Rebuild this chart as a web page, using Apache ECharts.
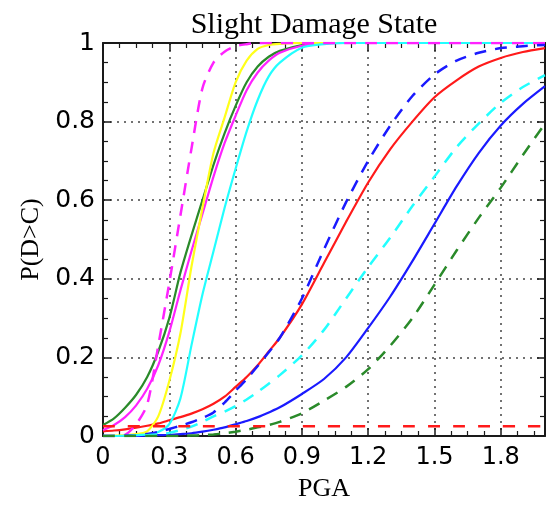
<!DOCTYPE html>
<html>
<head>
<meta charset="utf-8">
<script src="https://cdn.jsdelivr.net/npm/echarts@6/dist/echarts.min.js"></script>
<style>
html,body{margin:0;padding:0;background:#fff;}
#chart{width:554px;height:507px;}
</style>
</head>
<body>
<div id="chart"></div>
<script>
// PGA sample points
var pga = [0,0.05,0.1,0.15,0.2,0.25,0.3,0.35,0.4,0.45,0.5,0.55,0.6,0.65,0.7,0.75,0.8,0.9,1.0,1.1,1.2,1.3,1.4,1.5,1.6,1.7,1.8,1.9,2.0];
var xTicks = [0,0.3,0.6,0.9,1.2,1.5,1.8];
var yTicks = [0,0.2,0.4,0.6,0.8,1];

var greenSolid   = [0.028,0.045,0.072,0.105,0.15,0.215,0.3,0.415,0.51,0.6,0.69,0.77,0.84,0.9,0.94,0.965,0.98,0.995,1,1,1,1,1,1,1,1,1,1,1];
var magentaSolid = [0.015,0.028,0.048,0.078,0.12,0.18,0.265,0.37,0.47,0.565,0.66,0.745,0.815,0.88,0.925,0.955,0.975,0.993,0.999,1,1,1,1,1,1,1,1,1,1];
var yellowSolid  = [0,0.001,0.002,0.005,0.012,0.05,0.14,0.26,0.43,0.58,0.72,0.81,0.9,0.955,0.985,0.995,0.998,1,1,1,1,1,1,1,1,1,1,1,1];
var cyanSolid    = [0,0,0.001,0.002,0.004,0.01,0.03,0.095,0.23,0.36,0.47,0.58,0.68,0.775,0.855,0.915,0.95,0.988,0.997,1,1,1,1,1,1,1,1,1,1];
var redSolid     = [0.012,0.014,0.017,0.021,0.026,0.032,0.04,0.048,0.057,0.068,0.082,0.1,0.125,0.15,0.18,0.215,0.25,0.335,0.44,0.545,0.645,0.73,0.8,0.862,0.905,0.94,0.962,0.977,0.987];
var blueSolid    = [0,0,0,0,0.001,0.002,0.003,0.005,0.007,0.011,0.016,0.022,0.03,0.038,0.048,0.06,0.073,0.107,0.145,0.2,0.275,0.355,0.445,0.54,0.635,0.72,0.79,0.845,0.89];
var magentaDash  = [0,0,0.003,0.03,0.08,0.23,0.39,0.56,0.73,0.885,0.95,0.978,0.992,0.997,1,1,1,1,1,1,1,1,1,1,1,1,1,1,1];
var blueDash     = [0,0,0.001,0.002,0.005,0.01,0.018,0.026,0.035,0.046,0.06,0.085,0.115,0.145,0.178,0.213,0.25,0.35,0.475,0.595,0.7,0.79,0.865,0.92,0.955,0.975,0.987,0.992,0.995];
var cyanDash     = [0,0,0,0.001,0.002,0.004,0.008,0.015,0.024,0.036,0.05,0.062,0.076,0.093,0.112,0.133,0.155,0.205,0.27,0.35,0.43,0.505,0.585,0.66,0.735,0.795,0.848,0.888,0.918];
var greenDash    = [0,0,0,0,0,0,0,0,0.001,0.002,0.004,0.007,0.011,0.016,0.022,0.028,0.036,0.058,0.09,0.125,0.17,0.23,0.3,0.385,0.472,0.555,0.632,0.715,0.795];
var redDash      = [0.025,0.025,0.025,0.025,0.025,0.025,0.025,0.025,0.025,0.025,0.025,0.025,0.025,0.025,0.025,0.025,0.025,0.025,0.025,0.025,0.025,0.025,0.025,0.025,0.025,0.025,0.025,0.025,0.025];

function pairs(vals){ return pga.map(function(x,i){ return [x, vals[i]]; }); }
function line(name, vals, color, dash, width){
  return {
    name: name, type: 'line', data: pairs(vals), showSymbol: false, symbol: 'none',
    smooth: 0.25, clip: true,
    lineStyle: { color: color, width: width || 2.2, type: dash || 'solid' },
    z: 3
  };
}

var chart = echarts.init(document.getElementById('chart'), null, {renderer: 'canvas'});
var frame = { show: true, onZero: false, lineStyle: { color: '#1a1a1a', width: 2 } };
var tick = { show: true, inside: true, length: 8, lineStyle: { color: '#1a1a1a', width: 1.5 } };
var minor = { show: true, splitNumber: 4, length: 5, lineStyle: { color: '#1a1a1a', width: 1.2 } };
var grid = { show: true, lineStyle: { color: '#444', width: 1.5, type: [2, 5] } };

chart.setOption({
  animation: false,
  backgroundColor: '#fff',
  title: {
    text: 'Slight Damage State', left: 309, top: 5, textAlign: 'center',
    textStyle: { fontFamily: 'Liberation Serif', fontSize: 30, fontWeight: 'normal', color: '#000' }
  },
  grid: { left: 103, right: 9, top: 43, bottom: 68 },
  xAxis: [{
    type: 'value', min: 0, max: 2, interval: 0.3, position: 'bottom',
    axisLine: frame, axisTick: tick, minorTick: minor, splitLine: grid,
    axisLabel: { margin: 10, fontFamily: 'DejaVu Sans', fontSize: 24, color: '#000',
      customValues: xTicks },
    name: 'PGA', nameLocation: 'middle', nameGap: 40,
    nameTextStyle: { fontFamily: 'Liberation Serif', fontSize: 26, color: '#000' }
  }, {
    type: 'value', min: 0, max: 2, interval: 0.3, position: 'top',
    axisLine: frame, axisTick: tick, minorTick: minor, splitLine: { show: false },
    axisLabel: { show: false }
  }],
  yAxis: [{
    type: 'value', min: 0, max: 1, interval: 0.2, position: 'left',
    axisLine: frame, axisTick: tick, minorTick: minor, splitLine: grid,
    axisLabel: { margin: 8, fontFamily: 'DejaVu Sans', fontSize: 25, color: '#000', customValues: yTicks },
    name: 'P(D>C)', nameLocation: 'middle', nameGap: 58,
    nameTextStyle: { fontFamily: 'Liberation Serif', fontSize: 26, color: '#000' }
  }, {
    type: 'value', min: 0, max: 1, interval: 0.2, position: 'right',
    axisLine: frame, axisTick: tick, minorTick: minor, splitLine: { show: false },
    axisLabel: { show: false }
  }],
  series: [
    line('red solid', redSolid, '#ff1a1a'),
    line('blue solid', blueSolid, '#1a1aff'),
    line('green solid', greenSolid, '#2a8a2a'),
    line('magenta solid', magentaSolid, '#ff22ff'),
    line('yellow solid', yellowSolid, '#ffff1a'),
    line('cyan solid', cyanSolid, '#22ffff'),
    line('magenta dashed', magentaDash, '#ff22ff', [12, 9], 2.5),
    line('blue dashed', blueDash, '#1a1aff', [12, 9], 2.5),
    line('cyan dashed', cyanDash, '#22ffff', [12, 9], 2.5),
    line('green dashed', greenDash, '#2a8a2a', [12, 9], 2.5),
    line('red dashed', redDash, '#ff1a1a', [12, 13], 2.5)
  ]
});
</script>
</body>
</html>
